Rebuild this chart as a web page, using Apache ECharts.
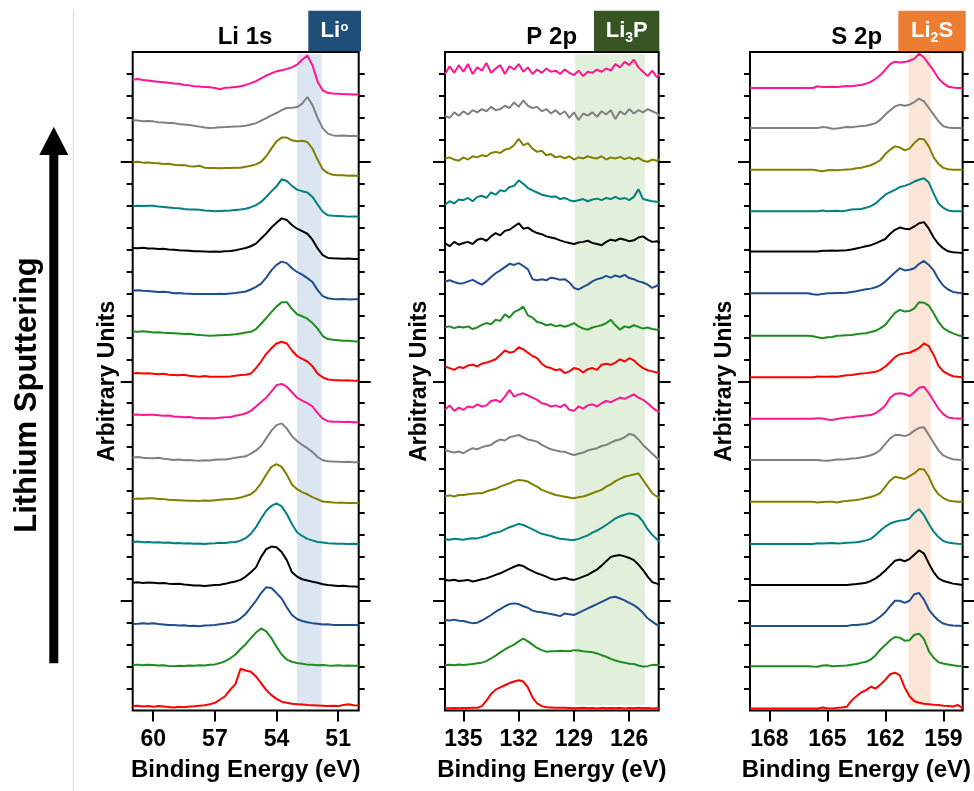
<!DOCTYPE html>
<html>
<head>
<meta charset="utf-8">
<script src="https://cdn.jsdelivr.net/npm/echarts@6/dist/echarts.min.js"></script>
<style>
  html, body { margin: 0; padding: 0; background: #fff; }
  #chart { width: 974px; height: 791px; }
</style>
</head>
<body>
<div id="chart"></div>
<script>
// binding energy grids (eV)
const liEnergy = [61,60.75,60.5,60.25,60,59.75,59.5,59.25,59,58.75,58.5,58.25,58,57.75,57.5,57.25,57,56.75,56.5,56.25,56,55.75,55.5,55.25,55,54.75,54.5,54.25,54,53.75,53.5,53.25,53,52.75,52.5,52.25,52,51.75,51.5,51.25,51,50.75,50.5,50.25,50];
const pEnergy = [136,135.75,135.5,135.25,135,134.75,134.5,134.25,134,133.75,133.5,133.25,133,132.75,132.5,132.25,132,131.75,131.5,131.25,131,130.75,130.5,130.25,130,129.75,129.5,129.25,129,128.75,128.5,128.25,128,127.75,127.5,127.25,127,126.75,126.5,126.25,126,125.75,125.5,125.25,125,124.75,124.5,124.25];
const sEnergy = [169,168.75,168.5,168.25,168,167.75,167.5,167.25,167,166.75,166.5,166.25,166,165.75,165.5,165.25,165,164.75,164.5,164.25,164,163.75,163.5,163.25,163,162.75,162.5,162.25,162,161.75,161.5,161.25,161,160.75,160.5,160.25,160,159.75,159.5,159.25,159,158.75,158.5,158.25,158];

// stacking offsets, bottom (first scan) to top
const offsets = [0.2,2.1,3.9,5.8,7.7,9.6,11.5,13.4,15.3,17.2,19.1,21.0,22.9,24.9,26.8,28.7];
const colors = ['#ff0000','#1f8c1f','#1f4e8f','#000000','#008080','#808000','#808080','#ff1493',
                '#ff0000','#1f8c1f','#1f4e8f','#000000','#008080','#808000','#808080','#ff1493'];

// Li 1s
const li0 = [0.0,0.02,-0.02,0.01,-0.03,0.0,-0.02,-0.04,-0.06,-0.03,-0.05,-0.02,-0.01,0.02,0.04,0.08,0.15,0.3,0.45,0.75,1.0,1.7,1.62,1.57,1.35,1.05,0.73,0.5,0.33,0.2,0.15,0.11,0.09,0.07,0.05,0.04,0.03,0.02,0.0,0.02,0.0,0.05,0.08,0.04,0.03];
const li1 = [-0.03,-0.01,-0.04,-0.02,-0.03,-0.05,-0.04,-0.07,-0.08,-0.06,-0.07,-0.05,-0.06,-0.04,-0.05,-0.02,0.0,0.06,0.15,0.28,0.45,0.7,0.92,1.2,1.45,1.64,1.5,1.2,0.8,0.45,0.22,0.12,0.06,0.03,-0.01,-0.02,-0.04,-0.03,-0.05,-0.06,-0.04,-0.06,-0.05,-0.06,-0.06];
const li2 = [0.04,0.05,0.07,0.05,0.07,0.04,0.02,0.0,-0.01,-0.03,-0.02,-0.05,-0.04,-0.06,-0.03,-0.02,0.0,0.03,0.06,0.1,0.15,0.3,0.5,0.8,1.1,1.45,1.72,1.68,1.45,1.2,0.8,0.45,0.27,0.18,0.12,0.08,0.05,0.02,0.03,0.0,-0.01,0.0,-0.01,0.0,-0.01];
const li3 = [0.02,0.04,0.01,0.03,0.02,0.0,0.01,-0.02,-0.04,-0.03,-0.06,-0.08,-0.1,-0.11,-0.13,-0.1,-0.08,-0.07,-0.03,0.03,0.08,0.15,0.3,0.5,0.72,1.2,1.55,1.67,1.64,1.42,1.05,0.5,0.3,0.18,0.12,0.07,0.02,-0.05,-0.08,-0.1,-0.13,-0.12,-0.14,-0.15,-0.16];
const li4 = [-0.02,0.0,-0.03,-0.02,-0.05,-0.04,-0.06,-0.05,-0.08,-0.07,-0.09,-0.08,-0.1,-0.09,-0.11,-0.09,-0.08,-0.06,-0.07,-0.04,-0.02,0.04,0.15,0.35,0.65,1.05,1.4,1.62,1.74,1.6,1.25,0.8,0.42,0.25,0.12,0.05,-0.02,-0.05,-0.08,-0.09,-0.1,-0.1,-0.11,-0.1,-0.11];
const li5 = [0.04,0.06,0.05,0.07,0.07,0.04,0.03,0.0,-0.01,-0.02,-0.03,-0.04,-0.04,-0.05,-0.03,-0.04,-0.02,0.0,0.02,0.03,0.06,0.1,0.17,0.25,0.45,0.75,1.15,1.5,1.62,1.5,1.15,0.7,0.48,0.35,0.25,0.12,0.02,-0.08,-0.1,-0.12,-0.13,-0.14,-0.15,-0.15,-0.16];
const li6 = [0.03,0.05,0.02,0.0,-0.01,0.01,-0.03,-0.05,-0.09,-0.07,-0.1,-0.09,-0.11,-0.12,-0.1,-0.11,-0.08,-0.07,-0.06,-0.03,0.02,0.05,0.08,0.2,0.35,0.55,0.9,1.25,1.5,1.58,1.35,1.0,0.78,0.6,0.45,0.28,0.05,-0.1,-0.14,-0.16,-0.17,-0.18,-0.17,-0.19,-0.19];
const li7 = [0.07,0.09,0.06,0.07,0.07,0.05,0.03,0.04,-0.01,-0.02,-0.04,-0.03,-0.06,-0.08,-0.07,-0.09,-0.08,-0.06,-0.04,-0.03,0.03,0.07,0.14,0.25,0.45,0.65,0.85,1.13,1.42,1.48,1.35,1.1,0.85,0.72,0.6,0.45,0.15,-0.1,-0.22,-0.24,-0.25,-0.26,-0.25,-0.27,-0.27];
const li8 = [0.07,0.08,0.05,0.06,0.04,0.02,0.04,0.0,-0.01,-0.03,0.0,-0.05,-0.07,-0.09,-0.06,-0.09,-0.1,-0.09,-0.1,-0.08,-0.05,-0.02,0.0,0.05,0.3,0.6,0.95,1.2,1.42,1.5,1.42,1.1,0.85,0.72,0.6,0.38,0.05,-0.12,-0.22,-0.24,-0.25,-0.27,-0.26,-0.28,-0.28];
const li9 = [0.07,0.06,0.08,0.05,0.02,0.03,0.01,0.0,-0.01,-0.03,-0.05,-0.04,-0.07,-0.09,-0.11,-0.13,-0.12,-0.1,-0.09,-0.08,-0.06,-0.02,0.02,0.05,0.18,0.42,0.68,0.95,1.2,1.4,1.4,1.1,0.85,0.76,0.65,0.45,0.2,-0.14,-0.28,-0.31,-0.33,-0.35,-0.36,-0.38,-0.39];
const li10 = [0.03,0.05,0.02,0.01,-0.01,-0.03,-0.02,-0.05,-0.09,-0.08,-0.1,-0.11,-0.13,-0.12,-0.12,-0.13,-0.12,-0.11,-0.12,-0.1,-0.08,-0.05,-0.01,0.08,0.2,0.35,0.62,0.95,1.2,1.35,1.28,1.05,0.88,0.76,0.6,0.42,0.05,-0.22,-0.32,-0.35,-0.36,-0.35,-0.37,-0.36,-0.36];
const li11 = [0.07,0.06,0.08,0.05,0.05,0.03,0.04,0.0,-0.01,-0.03,-0.04,-0.06,-0.08,-0.08,-0.09,-0.1,-0.09,-0.1,-0.08,-0.07,-0.03,0.02,0.07,0.15,0.27,0.5,0.73,1.0,1.22,1.42,1.35,1.12,0.95,0.84,0.72,0.45,0.05,-0.25,-0.38,-0.4,-0.41,-0.42,-0.41,-0.43,-0.43];
const li12 = [0.07,0.09,0.08,0.1,0.1,0.06,0.04,0.02,-0.01,-0.02,-0.05,-0.07,-0.08,-0.09,-0.12,-0.13,-0.16,-0.14,-0.13,-0.12,-0.1,-0.08,-0.04,0.03,0.12,0.27,0.5,0.75,0.98,1.3,1.22,1.0,0.83,0.76,0.7,0.5,0.15,-0.18,-0.34,-0.36,-0.37,-0.38,-0.4,-0.39,-0.39];
const li13 = [0.09,0.1,0.06,0.07,0.04,0.03,0.0,0.01,-0.04,-0.06,-0.05,-0.1,-0.12,-0.08,-0.17,-0.19,-0.19,-0.2,-0.18,-0.19,-0.17,-0.17,-0.13,-0.08,-0.02,0.1,0.35,0.7,1.03,1.2,1.2,1.08,1.03,1.06,1.0,0.7,0.2,-0.25,-0.42,-0.49,-0.51,-0.52,-0.54,-0.53,-0.54];
const li14 = [0.09,0.08,0.05,0.06,0.04,0.0,-0.01,-0.03,-0.04,-0.08,-0.1,-0.13,-0.16,-0.2,-0.24,-0.26,-0.25,-0.23,-0.22,-0.2,-0.19,-0.18,-0.16,-0.1,-0.04,0.07,0.19,0.31,0.42,0.55,0.65,0.66,0.69,0.85,1.15,0.78,0.2,-0.28,-0.52,-0.6,-0.61,-0.6,-0.63,-0.62,-0.64];
const li15 = [0.04,0.07,0.02,0.0,-0.03,-0.06,-0.08,-0.1,-0.14,-0.15,-0.2,-0.22,-0.26,-0.27,-0.3,-0.31,-0.34,-0.4,-0.33,-0.32,-0.29,-0.26,-0.2,-0.12,-0.03,0.1,0.22,0.33,0.42,0.47,0.53,0.6,0.72,0.95,1.14,0.7,-0.05,-0.45,-0.57,-0.59,-0.6,-0.62,-0.63,-0.64,-0.64];

// P 2p
const p0 = [-0.1,-0.1,-0.09,-0.1,-0.09,-0.09,-0.08,-0.08,0.0,0.25,0.55,0.75,0.85,0.95,1.05,1.12,1.18,1.12,0.85,0.4,0.12,0.0,-0.05,-0.06,-0.07,-0.08,-0.08,-0.09,-0.1,-0.09,-0.08,-0.1,-0.09,-0.11,-0.08,-0.1,-0.09,-0.1,-0.08,-0.11,-0.09,-0.1,-0.08,-0.1,-0.09,-0.11,-0.1,-0.1];
const p1 = [-0.03,-0.02,-0.04,0.0,-0.03,0.0,0.02,0.05,0.08,0.15,0.27,0.4,0.55,0.68,0.8,0.9,1.05,1.18,1.05,0.9,0.75,0.65,0.58,0.6,0.6,0.62,0.61,0.6,0.65,0.63,0.6,0.58,0.55,0.5,0.42,0.35,0.25,0.18,0.12,0.08,0.03,0.02,-0.05,-0.1,-0.08,-0.02,-0.03,-0.03];
const p2 = [0.22,0.2,0.24,0.19,0.18,0.12,0.08,0.1,0.2,0.32,0.45,0.6,0.72,0.85,0.95,0.98,0.95,0.85,0.78,0.65,0.6,0.58,0.53,0.5,0.45,0.4,0.52,0.48,0.45,0.55,0.65,0.75,0.85,0.95,1.05,1.15,1.25,1.28,1.2,1.12,1.0,0.9,0.75,0.55,0.3,0.15,0.0,-0.05];
const p3 = [0.15,0.12,0.16,0.1,0.12,0.15,0.08,0.12,0.18,0.22,0.3,0.38,0.45,0.55,0.65,0.75,0.83,0.78,0.65,0.55,0.45,0.38,0.3,0.2,0.15,0.2,0.25,0.18,0.15,0.22,0.3,0.38,0.5,0.62,0.8,1.0,1.2,1.25,1.28,1.22,1.15,1.05,0.85,0.6,0.3,0.05,-0.02,-0.08];
const p4 = [0.1,0.08,0.12,0.1,0.08,0.12,0.15,0.14,0.2,0.25,0.35,0.4,0.45,0.55,0.65,0.72,0.8,0.75,0.65,0.55,0.45,0.35,0.3,0.25,0.18,0.12,0.1,0.08,0.07,0.12,0.2,0.28,0.4,0.5,0.62,0.75,0.9,1.05,1.15,1.22,1.28,1.25,1.15,0.9,0.55,0.3,0.1,-0.08];
const p5 = [0.17,0.2,0.15,0.22,0.22,0.25,0.28,0.3,0.3,0.38,0.45,0.5,0.6,0.68,0.75,0.85,0.9,0.88,0.83,0.7,0.6,0.45,0.37,0.3,0.22,0.18,0.14,0.1,0.07,0.12,0.15,0.22,0.3,0.38,0.45,0.6,0.7,0.85,0.95,1.05,1.1,1.15,1.2,0.9,0.6,0.3,0.15,0.05];
const p6 = [0.37,0.3,0.25,0.3,0.22,0.35,0.45,0.4,0.5,0.55,0.6,0.75,0.85,0.8,0.95,1.0,1.05,0.95,0.85,0.8,0.75,0.6,0.5,0.4,0.35,0.3,0.29,0.2,0.14,0.2,0.25,0.35,0.4,0.45,0.55,0.6,0.7,0.8,0.85,0.95,1.1,1.05,0.85,0.6,0.4,0.2,0.0,-0.1];
const p7 = [0.3,0.5,0.25,0.4,0.3,0.45,0.4,0.55,0.45,0.5,0.7,0.75,0.65,0.9,1.2,0.9,1.0,1.05,0.95,0.85,0.75,0.6,0.55,0.45,0.5,0.42,0.55,0.3,0.25,0.45,0.35,0.5,0.55,0.45,0.6,0.7,0.65,0.75,0.85,0.8,0.9,1.0,0.85,0.75,0.6,0.4,0.25,0.2];
const p8 = [0.37,0.3,0.22,0.35,0.3,0.42,0.45,0.38,0.5,0.55,0.62,0.7,0.9,1.1,1.0,1.05,1.25,1.15,1.0,0.85,0.75,0.5,0.35,0.3,0.2,0.25,0.07,0.15,0.3,0.25,0.1,0.25,0.3,0.22,0.45,0.5,0.45,0.55,0.7,0.6,0.75,0.65,0.45,0.3,0.2,0.15,0.1,0.05];
const p9 = [0.26,0.3,0.22,0.28,0.25,0.3,0.18,0.25,0.37,0.45,0.4,0.6,0.55,0.85,0.7,0.95,1.05,1.2,0.8,0.7,0.5,0.45,0.35,0.4,0.3,0.35,0.28,0.35,0.45,0.3,0.2,0.15,0.25,0.3,0.35,0.45,0.6,0.35,0.15,0.3,0.25,0.35,0.28,0.2,0.25,0.18,0.15,0.2];
const p10 = [0.44,0.5,0.42,0.35,0.37,0.45,0.52,0.4,0.3,0.45,0.65,0.82,0.95,1.1,1.25,1.2,1.28,1.15,1.0,0.55,0.5,0.55,0.5,0.62,0.58,0.52,0.55,0.4,0.15,0.08,0.2,0.3,0.45,0.55,0.6,0.7,0.62,0.72,0.65,0.75,0.6,0.55,0.45,0.4,0.3,0.15,0.25,0.35];
const p11 = [0.3,0.15,0.35,0.22,0.3,0.35,0.25,0.45,0.5,0.4,0.6,0.75,0.65,0.85,0.9,1.05,1.2,0.95,1.0,0.85,0.75,0.7,0.6,0.55,0.5,0.42,0.35,0.3,0.25,0.32,0.35,0.4,0.3,0.25,0.2,0.35,0.45,0.4,0.5,0.45,0.38,0.42,0.55,0.6,0.45,0.35,0.38,0.3];
const p12 = [0.14,0.3,0.2,0.38,0.35,0.45,0.3,0.5,0.55,0.45,0.7,0.6,0.8,0.75,0.95,1.0,1.25,1.1,0.9,0.8,0.7,0.6,0.55,0.5,0.52,0.4,0.45,0.35,0.3,0.35,0.4,0.3,0.38,0.42,0.35,0.45,0.4,0.5,0.4,0.45,0.35,0.5,0.85,0.4,0.35,0.3,0.28,0.25];
const p13 = [0.25,0.3,0.2,0.15,0.3,0.2,0.35,0.3,0.4,0.35,0.5,0.55,0.5,0.65,0.7,0.85,1.15,0.85,0.95,0.7,0.55,0.6,0.4,0.45,0.3,0.35,0.25,0.35,0.2,0.3,0.25,0.35,0.28,0.25,0.35,0.2,0.3,0.25,0.32,0.22,0.3,0.2,0.28,0.15,0.1,0.2,0.15,0.25];
const p14 = [0.3,0.2,0.45,0.3,0.5,0.35,0.55,0.45,0.6,0.5,0.7,0.55,0.6,0.75,0.65,0.9,0.7,1.0,0.75,0.65,0.7,0.5,0.6,0.4,0.55,0.35,0.5,0.2,0.45,0.1,0.4,0.3,0.45,0.25,0.5,0.35,0.55,0.15,0.5,0.35,0.6,0.4,0.55,0.45,0.6,0.5,0.4,0.25];
const p15 = [0.3,0.65,0.35,0.7,0.4,0.75,0.3,0.6,0.45,0.8,0.35,0.55,0.7,0.3,0.65,0.5,0.75,0.4,0.6,0.3,0.5,0.35,0.55,0.4,0.45,0.3,0.5,0.35,0.25,0.45,0.2,0.4,0.35,0.5,0.4,0.55,0.45,0.75,0.6,0.85,0.7,0.95,0.6,0.4,0.2,0.45,0.15,0.35];

// S 2p
const s0 = [-0.11,-0.11,-0.11,-0.11,-0.11,-0.11,-0.11,-0.11,-0.11,-0.11,-0.11,-0.11,-0.11,-0.11,-0.11,-0.06,-0.1,-0.11,-0.08,-0.06,-0.03,0.25,0.45,0.62,0.73,0.88,0.8,0.98,1.2,1.45,1.52,1.4,0.85,0.45,0.22,0.15,0.11,0.09,0.06,0.05,0.02,0.0,-0.02,0.05,-0.1];
const s1 = [-0.08,-0.08,-0.08,-0.08,-0.08,-0.08,-0.08,-0.08,-0.08,-0.08,-0.08,-0.08,-0.08,-0.1,-0.11,-0.05,-0.04,-0.08,-0.07,-0.06,-0.05,-0.02,0.02,0.07,0.12,0.22,0.42,0.68,0.88,1.1,1.25,1.22,1.08,1.1,1.35,1.4,1.15,0.6,0.3,0.1,0.04,0.0,-0.04,-0.07,-0.08];
const s2 = [-0.05,-0.05,-0.05,-0.05,-0.05,-0.05,-0.05,-0.05,-0.05,-0.05,-0.05,-0.05,-0.05,-0.05,-0.05,-0.05,-0.05,-0.05,-0.05,-0.05,-0.05,-0.01,0.0,0.02,0.04,0.1,0.22,0.38,0.58,0.85,1.1,1.1,1.0,1.1,1.4,1.45,1.15,0.7,0.42,0.2,0.06,0.0,-0.03,-0.04,-0.05];
const s3 = [-0.08,-0.08,-0.08,-0.08,-0.08,-0.08,-0.08,-0.08,-0.08,-0.08,-0.08,-0.08,-0.08,-0.08,-0.08,-0.08,-0.08,-0.08,-0.08,-0.08,-0.08,-0.06,-0.04,-0.01,0.02,0.1,0.22,0.38,0.58,0.8,1.02,1.08,1.0,1.1,1.3,1.5,1.35,0.9,0.5,0.22,0.1,0.04,-0.02,-0.05,-0.08];
const s4 = [-0.11,-0.11,-0.11,-0.11,-0.11,-0.11,-0.11,-0.11,-0.11,-0.11,-0.11,-0.11,-0.11,-0.11,-0.08,-0.09,-0.08,-0.07,-0.09,-0.08,-0.06,-0.05,-0.03,0.0,0.05,0.12,0.3,0.5,0.68,0.82,0.9,0.95,0.98,1.05,1.3,1.47,1.2,0.8,0.45,0.2,0.02,-0.05,-0.08,-0.1,-0.11];
const s5 = [-0.09,-0.09,-0.09,-0.09,-0.09,-0.09,-0.09,-0.09,-0.09,-0.09,-0.09,-0.09,-0.09,-0.09,-0.12,-0.1,-0.09,-0.09,-0.12,-0.08,-0.06,-0.03,-0.01,0.03,0.08,0.13,0.2,0.32,0.6,0.88,1.05,1.0,0.95,1.08,1.2,1.4,1.38,1.05,0.55,0.25,0.08,-0.03,-0.07,-0.09,-0.09];
const s6 = [-0.09,-0.09,-0.09,-0.09,-0.09,-0.09,-0.09,-0.09,-0.09,-0.09,-0.09,-0.09,-0.09,-0.09,-0.09,-0.11,-0.12,-0.1,-0.07,-0.06,-0.05,-0.02,-0.01,0.03,0.07,0.13,0.22,0.38,0.65,0.9,1.05,1.05,1.0,1.08,1.25,1.38,1.4,1.05,0.7,0.35,0.12,0.02,-0.05,-0.08,-0.09];
const s7 = [-0.11,-0.11,-0.11,-0.11,-0.11,-0.11,-0.11,-0.11,-0.11,-0.11,-0.11,-0.11,-0.11,-0.11,-0.08,-0.1,-0.14,-0.16,-0.12,-0.08,-0.05,-0.04,-0.01,0.02,0.04,0.06,0.15,0.3,0.5,0.85,1.02,1.05,1.02,0.92,1.1,1.3,1.35,1.05,0.7,0.35,0.1,-0.05,-0.09,-0.1,-0.11];
const s8 = [-0.12,-0.12,-0.12,-0.12,-0.12,-0.12,-0.12,-0.12,-0.12,-0.12,-0.12,-0.12,-0.12,-0.12,-0.08,-0.1,-0.09,-0.08,-0.09,-0.06,-0.03,-0.01,0.02,0.05,0.07,0.1,0.13,0.22,0.37,0.58,0.8,0.93,0.97,1.0,1.1,1.22,1.42,1.3,0.9,0.4,0.15,0.02,-0.07,-0.1,-0.12];
const s9 = [-0.13,-0.13,-0.13,-0.13,-0.13,-0.13,-0.13,-0.13,-0.13,-0.13,-0.13,-0.13,-0.13,-0.15,-0.2,-0.24,-0.2,-0.18,-0.13,-0.12,-0.1,-0.09,-0.06,-0.03,-0.01,0.04,0.1,0.22,0.37,0.65,0.92,1.05,0.98,1.0,1.12,1.4,1.38,1.25,0.9,0.5,0.22,0.08,-0.02,-0.1,-0.15];
const s10 = [-0.09,-0.09,-0.09,-0.09,-0.09,-0.09,-0.09,-0.09,-0.09,-0.09,-0.09,-0.09,-0.09,-0.14,-0.16,-0.12,-0.09,-0.09,-0.08,-0.08,-0.07,-0.03,0.0,0.05,0.09,0.12,0.18,0.28,0.44,0.65,0.85,1.05,0.95,0.98,1.05,1.25,1.38,1.2,0.95,0.55,0.25,0.08,-0.03,-0.07,-0.09];
const s11 = [-0.09,-0.09,-0.09,-0.09,-0.09,-0.09,-0.09,-0.09,-0.09,-0.09,-0.09,-0.09,-0.09,-0.09,-0.09,-0.05,-0.06,-0.04,-0.05,-0.04,-0.03,0.0,0.05,0.1,0.15,0.2,0.28,0.38,0.48,0.72,0.9,1.0,0.95,0.93,1.05,1.2,1.25,0.95,0.55,0.25,0.05,-0.08,-0.12,-0.14,-0.16];
const s12 = [-0.16,-0.16,-0.16,-0.16,-0.16,-0.16,-0.16,-0.16,-0.16,-0.16,-0.16,-0.16,-0.16,-0.16,-0.16,-0.12,-0.15,-0.14,-0.13,-0.15,-0.12,-0.08,-0.06,-0.05,0.0,0.08,0.2,0.4,0.6,0.72,0.82,0.95,1.0,1.08,1.2,1.28,1.35,1.15,0.65,0.2,0.0,-0.12,-0.15,-0.16,-0.16];
const s13 = [-0.26,-0.26,-0.26,-0.26,-0.26,-0.26,-0.26,-0.26,-0.26,-0.26,-0.26,-0.26,-0.26,-0.26,-0.3,-0.33,-0.29,-0.28,-0.29,-0.27,-0.25,-0.24,-0.2,-0.17,-0.12,-0.06,0.05,0.18,0.45,0.65,0.8,0.75,0.62,0.7,0.95,1.15,1.12,0.8,0.3,0.0,-0.18,-0.24,-0.26,-0.26,-0.27];
const s14 = [-0.26,-0.26,-0.26,-0.26,-0.26,-0.26,-0.26,-0.26,-0.26,-0.26,-0.26,-0.26,-0.26,-0.26,-0.26,-0.22,-0.24,-0.3,-0.28,-0.25,-0.22,-0.23,-0.2,-0.17,-0.16,-0.1,-0.04,0.12,0.35,0.55,0.72,0.8,0.75,0.8,0.92,1.08,0.95,0.65,0.35,0.05,-0.18,-0.24,-0.26,-0.26,-0.27];
const s15 = [-0.34,-0.34,-0.34,-0.34,-0.34,-0.34,-0.34,-0.34,-0.34,-0.34,-0.34,-0.34,-0.34,-0.34,-0.26,-0.3,-0.3,-0.28,-0.29,-0.27,-0.25,-0.26,-0.23,-0.2,-0.14,-0.06,0.08,0.25,0.5,0.75,0.86,0.82,0.84,0.9,1.0,1.22,1.05,0.75,0.45,0.1,-0.12,-0.28,-0.32,-0.34,-0.34];

const liTraces = [li0,li1,li2,li3,li4,li5,li6,li7,li8,li9,li10,li11,li12,li13,li14,li15];
const pTraces = [p0,p1,p2,p3,p4,p5,p6,p7,p8,p9,p10,p11,p12,p13,p14,p15];
const sTraces = [s0,s1,s2,s3,s4,s5,s6,s7,s8,s9,s10,s11,s12,s13,s14,s15];

// tick labels
const liTicks = [51,54,57,60];
const pTicks = [126,129,132,135];
const sTicks = [159,162,165,168];
const yMinorTicks = [1,2,3,4,6,7,8,9,10,11,12,13,14,16,17,18,19,20,21,22,23,24,26,27,28,29];
const yMajorTicks = [5,15,25];

// highlighted reference bands (eV)
const liBand = [51.8, 53.0];
const pBand = [125.15, 128.95];
const sBand = [159.65, 160.8];

const FONT = 'Liberation Sans, Arial, sans-serif';

const panels = [
  { energy: liEnergy, traces: liTraces, ticks: liTicks, band: liBand, min: 50, max: 61,
    bandColor: '#dce6f2', left: 132.7, width: 226 },
  { energy: pEnergy, traces: pTraces, ticks: pTicks, band: pBand, min: 124.4, max: 136,
    bandColor: '#e2efda', left: 445, width: 213.7 },
  { energy: sEnergy, traces: sTraces, ticks: sTicks, band: sBand, min: 158, max: 169,
    bandColor: '#fbe5d6', left: 750, width: 213.7 }
];

const grid = [], xAxis = [], yAxis = [], series = [];

function yAx(g, pos, ticks, len, named) {
  const ax = {
    gridIndex: g, type: 'value', min: 0, max: 30, position: pos,
    axisLine: { show: false },
    splitLine: { show: false },
    axisLabel: { show: false },
    axisTick: { show: true, customValues: ticks, length: len, lineStyle: { color: '#000', width: 2 } }
  };
  if (named) {
    ax.name = 'Arbitrary Units';
    ax.nameLocation = 'middle';
    ax.nameRotate = 90;
    ax.nameGap = 14;
    ax.nameTextStyle = { fontFamily: FONT, fontSize: 23, fontWeight: 'bold', color: '#000' };
  }
  return ax;
}

panels.forEach((p, g) => {
  grid.push({ left: p.left, top: 52, width: p.width, height: 658.5,
    show: true, borderColor: '#000', borderWidth: 2, backgroundColor: 'transparent' });

  xAxis.push({
    gridIndex: g, type: 'value', inverse: true, min: p.min, max: p.max,
    axisLine: { show: false },
    splitLine: { show: false },
    axisTick: { show: true, customValues: p.ticks, length: 11, lineStyle: { color: '#000', width: 2 } },
    axisLabel: { customValues: p.ticks, margin: 18, fontFamily: FONT, fontSize: 23, fontWeight: 'bold', color: '#000' },
    name: 'Binding Energy (eV)', nameLocation: 'middle', nameGap: 48,
    nameTextStyle: { fontFamily: FONT, fontSize: 24, fontWeight: 'bold', color: '#000' }
  });

  const yi = yAxis.length;
  yAxis.push(yAx(g, 'left', yMinorTicks, 6, true));
  yAxis.push(yAx(g, 'left', yMajorTicks, 12, false));
  yAxis.push(yAx(g, 'right', yMinorTicks, 6, false));
  yAxis.push(yAx(g, 'right', yMajorTicks, 12, false));

  // shaded band
  series.push({
    type: 'line', xAxisIndex: g, yAxisIndex: yi, z: 1, silent: true,
    data: [[p.band[0], 0.25]], showSymbol: false, symbol: 'none',
    lineStyle: { opacity: 0 },
    markArea: {
      silent: true, itemStyle: { color: p.bandColor },
      data: [[{ xAxis: p.band[0], yAxis: 0.25 }, { xAxis: p.band[1], yAxis: 29.9 }]]
    }
  });

  p.traces.forEach((vals, i) => {
    series.push({
      type: 'line', xAxisIndex: g, yAxisIndex: yi, z: 3, silent: true,
      data: p.energy.map((e, k) => [e, offsets[i] + vals[k]]),
      showSymbol: false, symbol: 'none', clip: true,
      lineStyle: { color: colors[i], width: 2 },
      itemStyle: { color: colors[i] }
    });
  });
});

function txt(x, y, text, size, color, align) {
  return { type: 'text', x: x, y: y, silent: true,
    style: { text: text, fill: color || '#000', font: 'bold ' + size + 'px ' + FONT,
      textAlign: align || 'center', textVerticalAlign: 'middle' } };
}

const graphic = [
  // separator and arrow
  { type: 'line', silent: true, shape: { x1: 73.5, y1: 10, x2: 73.5, y2: 791 },
    style: { stroke: '#d9d9d9', lineWidth: 1 } },
  { type: 'polygon', silent: true,
    shape: { points: [[53.8,126.7],[68.3,155],[58.3,155],[58.3,663.3],[49.3,663.3],[49.3,155],[39.3,155]] },
    style: { fill: '#000' } },
  { type: 'text', x: 27, y: 395, rotation: Math.PI / 2, silent: true,
    style: { text: 'Lithium Sputtering', fill: '#000', font: 'bold 31px ' + FONT,
      textAlign: 'center', textVerticalAlign: 'middle' } },
  // panel titles
  txt(245, 37, 'Li 1s', 24),
  txt(551.7, 37, 'P 2p', 24),
  txt(856.7, 37, 'S 2p', 24),
  // header boxes
  { type: 'rect', silent: true, shape: { x: 308.3, y: 10.7, width: 52.7, height: 40.5 }, style: { fill: '#1f4e79' } },
  txt(320.5, 31, 'Li', 22, '#fff', 'left'),
  txt(340.5, 27.5, 'o', 13, '#fff', 'left'),
  { type: 'rect', silent: true, shape: { x: 594, y: 10.7, width: 65.3, height: 40.5 }, style: { fill: '#375623' } },
  txt(605.7, 31, 'Li', 22, '#fff', 'left'),
  txt(625.3, 38.5, '3', 14, '#fff', 'left'),
  txt(633.1, 31, 'P', 22, '#fff', 'left'),
  { type: 'rect', silent: true, shape: { x: 898.3, y: 10.7, width: 67.4, height: 40.5 }, style: { fill: '#ed7d31' } },
  txt(911, 31, 'Li', 22, '#fff', 'left'),
  txt(930.6, 38.5, '2', 14, '#fff', 'left'),
  txt(938.4, 31, 'S', 22, '#fff', 'left')
];

const chart = echarts.init(document.getElementById('chart'));
chart.setOption({
  animation: false,
  backgroundColor: '#fff',
  grid: grid,
  xAxis: xAxis,
  yAxis: yAxis,
  series: series,
  graphic: graphic
});
</script>
</body>
</html>
